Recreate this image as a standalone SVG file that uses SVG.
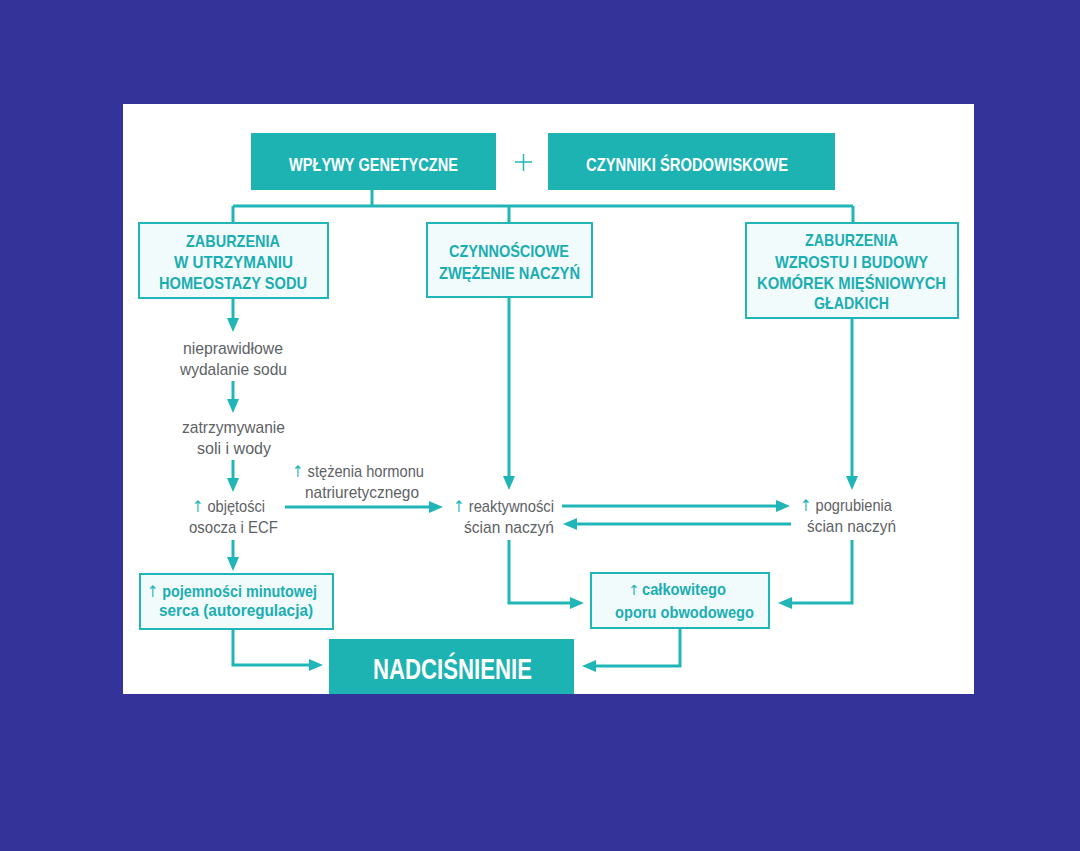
<svg xmlns="http://www.w3.org/2000/svg" width="1080" height="851" viewBox="0 0 1080 851">
<defs>
<style>
.conn{fill:none;stroke:#20b6b8;stroke-width:3}
.solid{fill:#1db3b3}
.light{fill:#f2fbfb;stroke:#20b6b8;stroke-width:2}
.wt{font-family:"Liberation Sans",Arial,sans-serif;font-weight:bold;fill:#ffffff;text-anchor:middle}
.tt{font-family:"Liberation Sans",Arial,sans-serif;font-weight:bold;fill:#1aaeb2;font-size:17px;text-anchor:middle}
.gt{font-family:"Liberation Sans",Arial,sans-serif;fill:#5e6266;font-size:17px;text-anchor:middle}
.up{font-family:"DejaVu Sans",sans-serif;fill:#1fb5b5;font-weight:normal;font-size:16px}
.upa{font-family:"DejaVu Sans",sans-serif;fill:#1fb5b5;font-size:14px;text-anchor:end}
</style>
<marker id="ah" markerWidth="14" markerHeight="12" refX="4" refY="6" orient="auto" markerUnits="userSpaceOnUse">
<path d="M0,0 L14,6 L0,12 z" fill="#20b6b8"/>
</marker>
</defs>
<rect x="0" y="0" width="1080" height="851" fill="#333399"/>
<rect x="123" y="104" width="851" height="590" fill="#ffffff"/>

<g id="connectors">
<path class="conn" d="M372,190 V206 M233,206 H853 M233,206 V223 M509,206 V223 M853,206 V223"/>
<path class="conn" d="M233,298 V322" marker-end="url(#ah)"/>
<path class="conn" d="M233,381 V403" marker-end="url(#ah)"/>
<path class="conn" d="M233,460 V482" marker-end="url(#ah)"/>
<path class="conn" d="M233,540 V561" marker-end="url(#ah)"/>
<path class="conn" d="M233,629 V665 H313" marker-end="url(#ah)"/>
<path class="conn" d="M285,507 H433" marker-end="url(#ah)"/>
<path class="conn" d="M509,297 V480" marker-end="url(#ah)"/>
<path class="conn" d="M852,318 V480" marker-end="url(#ah)"/>
<path class="conn" d="M562,506 H780" marker-end="url(#ah)"/>
<path class="conn" d="M791,524 H573" marker-end="url(#ah)"/>
<path class="conn" d="M509,540 V603 H574" marker-end="url(#ah)"/>
<path class="conn" d="M852,540 V603 H788" marker-end="url(#ah)"/>
<path class="conn" d="M680,628 V666 H592" marker-end="url(#ah)"/>
<g fill="none" stroke="#20b6b8" stroke-width="1.5">
<path d="M515,162 H532 M523.5,154 V171"/>
</g>
</g>

<g id="n-genetyczne">
<rect class="solid" x="251" y="133" width="245" height="57"/>
<text class="wt" x="373.5" y="171" font-size="18" textLength="169" lengthAdjust="spacingAndGlyphs">WPŁYWY GENETYCZNE</text>
</g>
<g id="n-srodowiskowe">
<rect class="solid" x="548" y="133" width="287" height="57"/>
<text class="wt" x="687" y="171" font-size="18" textLength="202" lengthAdjust="spacingAndGlyphs">CZYNNIKI ŚRODOWISKOWE</text>
</g>

<g id="n-homeostaza">
<rect class="light" x="139" y="223" width="189" height="75"/>
<text class="tt" x="233" y="247" textLength="94" lengthAdjust="spacingAndGlyphs">ZABURZENIA</text>
<text class="tt" x="233.5" y="268" textLength="119" lengthAdjust="spacingAndGlyphs">W UTRZYMANIU</text>
<text class="tt" x="233" y="289" textLength="148" lengthAdjust="spacingAndGlyphs">HOMEOSTAZY SODU</text>
</g>
<g id="n-zwezenie">
<rect class="light" x="427" y="223" width="165" height="74"/>
<text class="tt" x="509" y="257" textLength="120" lengthAdjust="spacingAndGlyphs">CZYNNOŚCIOWE</text>
<text class="tt" x="509.5" y="279" textLength="141" lengthAdjust="spacingAndGlyphs">ZWĘŻENIE NACZYŃ</text>
</g>
<g id="n-wzrost">
<rect class="light" x="746" y="223" width="212" height="95"/>
<text class="tt" x="851.5" y="246" textLength="93" lengthAdjust="spacingAndGlyphs">ZABURZENIA</text>
<text class="tt" x="851.5" y="268" textLength="153" lengthAdjust="spacingAndGlyphs">WZROSTU I BUDOWY</text>
<text class="tt" x="851.5" y="289" textLength="189" lengthAdjust="spacingAndGlyphs">KOMÓREK MIĘŚNIOWYCH</text>
<text class="tt" x="851.5" y="309" textLength="75" lengthAdjust="spacingAndGlyphs">GŁADKICH</text>
</g>

<g id="n-wydalanie">
<text class="gt" x="233" y="354" textLength="100" lengthAdjust="spacingAndGlyphs">nieprawidłowe</text>
<text class="gt" x="233.5" y="375" textLength="107" lengthAdjust="spacingAndGlyphs">wydalanie sodu</text>
</g>
<g id="n-zatrzymywanie">
<text class="gt" x="233.5" y="433" textLength="103" lengthAdjust="spacingAndGlyphs">zatrzymywanie</text>
<text class="gt" x="234" y="454" textLength="74" lengthAdjust="spacingAndGlyphs">soli i wody</text>
</g>
<g id="n-objetosci">
<text class="gt" x="228.5" y="512" textLength="73" lengthAdjust="spacingAndGlyphs"><tspan class="up">↑</tspan> objętości</text>
<text class="gt" x="233.5" y="533" textLength="89" lengthAdjust="spacingAndGlyphs">osocza i ECF</text>
</g>
<g id="n-pojemnosc">
<rect class="light" x="140" y="574" width="193" height="55"/>
<text class="tt" x="232" y="597" textLength="170" lengthAdjust="spacingAndGlyphs"><tspan class="up">↑</tspan> pojemności minutowej</text>
<text class="tt" x="236" y="616" textLength="154" lengthAdjust="spacingAndGlyphs">serca (autoregulacja)</text>
</g>
<g id="l-hormon">
<text class="gt" x="358" y="477" textLength="132" lengthAdjust="spacingAndGlyphs"><tspan class="up">↑</tspan> stężenia hormonu</text>
<text class="gt" x="362" y="498" textLength="114" lengthAdjust="spacingAndGlyphs">natriuretycznego</text>
</g>
<g id="n-reaktywnosc">
<text class="gt" x="503.5" y="512" textLength="101" lengthAdjust="spacingAndGlyphs"><tspan class="up">↑</tspan> reaktywności</text>
<text class="gt" x="509" y="533" textLength="90" lengthAdjust="spacingAndGlyphs">ścian naczyń</text>
</g>
<g id="n-pogrubienie">
<text class="gt" x="846" y="511" textLength="92" lengthAdjust="spacingAndGlyphs"><tspan class="up">↑</tspan> pogrubienia</text>
<text class="gt" x="851.5" y="532" textLength="89" lengthAdjust="spacingAndGlyphs">ścian naczyń</text>
</g>
<g id="n-opor">
<rect class="light" x="591" y="573" width="178" height="55"/>
<text class="upa" x="640" y="595">↑</text>
<text class="tt" x="684" y="595" textLength="84" lengthAdjust="spacingAndGlyphs">całkowitego</text>
<text class="tt" x="684.5" y="618" textLength="139" lengthAdjust="spacingAndGlyphs">oporu obwodowego</text>
</g>
<g id="n-nadcisnienie">
<rect class="solid" x="329" y="639" width="245" height="55"/>
<text class="wt" x="452.5" y="679" font-size="29" textLength="159" lengthAdjust="spacingAndGlyphs">NADCIŚNIENIE</text>
</g>
</svg>
